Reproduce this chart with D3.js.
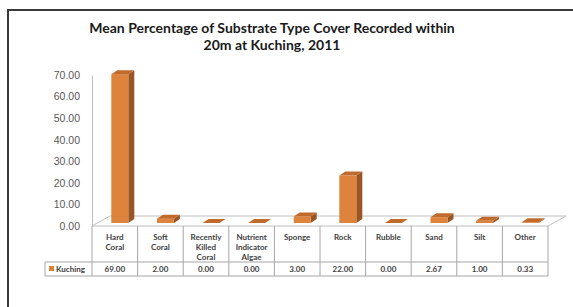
<!DOCTYPE html>
<html>
<head>
<meta charset="utf-8">
<script src="https://cdn.jsdelivr.net/npm/d3@7"></script>
<style>
  body { margin: 0; background: #fff; }
  svg { display: block; font-family: Lato, "Open Sans", sans-serif; }
</style>
</head>
<body>
<div id="chart"></div>
<script>
const categories = [["Hard", "Coral"], ["Soft", "Coral"], ["Recently", "Killed", "Coral"],
  ["Nutrient", "Indicator", "Algae"], ["Sponge"], ["Rock"], ["Rubble"], ["Sand"], ["Silt"], ["Other"]];
const seriesName = "Kuching";
const values = [69.00, 2.00, 0.00, 0.00, 3.00, 22.00, 0.00, 2.67, 1.00, 0.33];
const yTicks = [0, 10, 20, 30, 40, 50, 60, 70];
const titleLines = ["Mean Percentage of Substrate Type Cover Recorded within", "20m at Kuching, 2011"];

const width = 573, height = 307;
const plot = { left: 92, right: 548, top: 75, bottom: 226 };
const floorDepth = { dx: 18, dy: -10 };
const barShift = { dx: 5, dy: -3 };
const barDepth = { dx: 6, dy: -4 };
const barWidth = 17;

const svg = d3.select("#chart").append("svg")
  .attr("width", width)
  .attr("height", height);

// frame
svg.append("rect")
  .attr("x", 8).attr("y", 10)
  .attr("width", 600).attr("height", 320)
  .attr("fill", "#fff")
  .attr("stroke", "#3a3a3a")
  .attr("stroke-width", 2);

// title
svg.append("g").selectAll("text")
  .data(titleLines)
  .enter().append("text")
  .attr("x", 272)
  .attr("y", (d, i) => 33 + i * 17)
  .attr("text-anchor", "middle")
  .style("font-weight", "bold")
  .style("font-size", "14px")
  .attr("fill", "#1a1a1a")
  .text(d => d);

const x = d3.scaleBand()
  .domain(d3.range(categories.length))
  .range([plot.left, plot.right]);

const y = d3.scaleLinear()
  .domain([0, 70])
  .range([plot.bottom, plot.top]);

// y axis
const yAxis = svg.append("g")
  .attr("transform", `translate(${plot.left},0)`)
  .call(d3.axisLeft(y).tickValues(yTicks).tickSize(0).tickPadding(12).tickFormat(d3.format(".2f")));
yAxis.select(".domain").attr("stroke", "#bfbfbf");
yAxis.selectAll("text")
  .style("font-size", "10.5px")
  .attr("fill", "#595959");

// floor
const floorPts = [
  [plot.left, plot.bottom],
  [plot.left + floorDepth.dx, plot.bottom + floorDepth.dy],
  [plot.right + floorDepth.dx, plot.bottom + floorDepth.dy],
  [plot.right, plot.bottom]
];
svg.append("polygon")
  .attr("points", floorPts.map(p => p.join(",")).join(" "))
  .attr("fill", "none")
  .attr("stroke", "#bfbfbf")
  .attr("stroke-width", 1);

// bars (3D)
const bars = svg.append("g").selectAll("g")
  .data(values)
  .enter().append("g");

function fx(i) { return x(i) + x.bandwidth() / 2 - barWidth / 2 + barShift.dx; }
function fy0() { return y(0) + barShift.dy; }
function fy1(v) { return y(v) + barShift.dy; }

// side face
bars.append("polygon")
  .attr("points", (d, i) => {
    const x1 = fx(i) + barWidth;
    return [[x1, fy0()], [x1, fy1(d)], [x1 + barDepth.dx, fy1(d) + barDepth.dy], [x1 + barDepth.dx, fy0() + barDepth.dy]]
      .map(p => p.join(",")).join(" ");
  })
  .attr("fill", "#9a5524");

// front face
bars.append("rect")
  .attr("x", (d, i) => fx(i))
  .attr("y", d => fy1(d))
  .attr("width", barWidth)
  .attr("height", d => fy0() - fy1(d))
  .attr("fill", "#dd833c");

// top face
bars.append("polygon")
  .attr("points", (d, i) => {
    const x0 = fx(i), top = fy1(d);
    return [[x0, top], [x0 + barDepth.dx, top + barDepth.dy], [x0 + barWidth + barDepth.dx, top + barDepth.dy], [x0 + barWidth, top]]
      .map(p => p.join(",")).join(" ");
  })
  .attr("fill", "#c06a2c");

// data table
const table = svg.append("g");
const rowTop = plot.bottom, rowMid = 262, rowBot = 276;
const legendLeft = 45;
const lineColor = "#a6a6a6";

x.domain().forEach(i => {
  table.append("line")
    .attr("x1", x(i)).attr("x2", x(i))
    .attr("y1", rowTop).attr("y2", rowBot)
    .attr("stroke", lineColor);
});
table.append("line")
  .attr("x1", plot.right).attr("x2", plot.right)
  .attr("y1", rowTop).attr("y2", rowBot)
  .attr("stroke", lineColor);
table.append("line")
  .attr("x1", legendLeft).attr("x2", legendLeft)
  .attr("y1", rowMid).attr("y2", rowBot)
  .attr("stroke", lineColor);
[rowMid, rowBot].forEach(yy => {
  table.append("line")
    .attr("x1", legendLeft).attr("x2", plot.right)
    .attr("y1", yy).attr("y2", yy)
    .attr("stroke", lineColor);
});

// category labels
table.selectAll(".cat")
  .data(categories)
  .enter().append("text")
  .attr("class", "cat")
  .attr("x", (d, i) => x(i) + x.bandwidth() / 2)
  .attr("y", 240)
  .attr("text-anchor", "middle")
  .style("font-size", "8px")
  .style("font-weight", "bold")
  .attr("fill", "#404040")
  .selectAll("tspan")
  .data(d => d)
  .enter().append("tspan")
  .attr("x", function() { return d3.select(this.parentNode).attr("x"); })
  .attr("dy", (d, i) => i === 0 ? 0 : 10)
  .text(d => d);

// values
table.selectAll(".val")
  .data(values)
  .enter().append("text")
  .attr("class", "val")
  .attr("x", (d, i) => x(i) + x.bandwidth() / 2)
  .attr("y", 272)
  .attr("text-anchor", "middle")
  .style("font-size", "8px")
  .style("font-weight", "bold")
  .attr("fill", "#404040")
  .text(d => d3.format(".2f")(d));

// legend key
table.append("rect")
  .attr("x", 49).attr("y", 266)
  .attr("width", 5).attr("height", 5)
  .attr("fill", "#dd833c");
table.append("text")
  .attr("x", 56).attr("y", 272)
  .style("font-size", "8px")
  .style("font-weight", "bold")
  .attr("fill", "#404040")
  .text(seriesName);
</script>
</body>
</html>
